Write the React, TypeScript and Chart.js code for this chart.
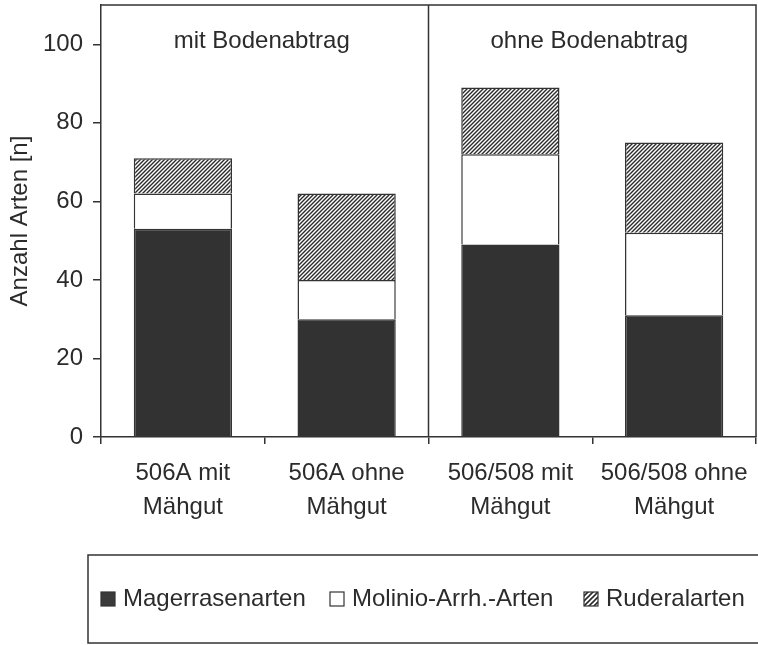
import React, { useEffect, useRef } from "react";
import { Chart, registerables } from "chart.js";

Chart.register(...registerables);

// ---- data ----
const categories: string[][] = [
  ["506A mit", "Mähgut"],
  ["506A ohne", "Mähgut"],
  ["506/508 mit", "Mähgut"],
  ["506/508 ohne", "Mähgut"],
];
const magerrasenarten: number[] = [53, 30, 49, 31];
const molinioArten: number[] = [9, 10, 23, 21];
const ruderalarten: number[] = [9, 22, 17, 23];
const seriesLabels: string[] = ["Magerrasenarten", "Molinio-Arrh.-Arten", "Ruderalarten"];
const groupLabels: string[] = ["mit Bodenabtrag", "ohne Bodenabtrag"];
const yTicks: number[] = [0, 20, 40, 60, 80, 100];
const yAxisTitle = "Anzahl Arten [n]";

const FONT = '"Liberation Sans", Arial, Helvetica, sans-serif';
const INK = "#2b2b2b";
const LINE = "#333333";
const DARK = "#323232";

function makeHatch(period: number, lw: number): CanvasPattern | string {
  const c = document.createElement("canvas");
  c.width = period;
  c.height = period;
  const g = c.getContext("2d");
  if (!g) return "#888";
  g.fillStyle = "#ffffff";
  g.fillRect(0, 0, period, period);
  g.strokeStyle = "#2a2a2a";
  g.lineWidth = lw;
  g.beginPath();
  g.moveTo(0, period);
  g.lineTo(period, 0);
  g.moveTo(-period, period);
  g.lineTo(period, -period);
  g.moveTo(0, 2 * period);
  g.lineTo(2 * period, 0);
  g.stroke();
  const p = g.createPattern(c, "repeat");
  return p || "#888";
}

export default function App() {
  const ref = useRef<HTMLCanvasElement | null>(null);

  useEffect(() => {
    if (!ref.current) return;
    const hatch = makeHatch(4, 1.4);
    const hatchLegend = makeHatch(5, 1.6);
    const fills: (string | CanvasPattern)[] = [DARK, "#ffffff", hatch];
    const legendFills: (string | CanvasPattern)[] = ["#3a3a3a", "#ffffff", hatchLegend];

    const decor = {
      id: "decor",
      afterDraw(chart: any) {
        const { ctx, chartArea: ca, scales } = chart;
        const x = scales.x;
        ctx.save();
        ctx.strokeStyle = LINE;
        ctx.lineWidth = 1.5;
        // top + right frame
        ctx.beginPath();
        ctx.moveTo(ca.left, ca.top);
        ctx.lineTo(ca.right, ca.top);
        ctx.lineTo(ca.right, ca.bottom);
        ctx.stroke();
        // divider between the two groups
        const div = (x.getPixelForValue(1) + x.getPixelForValue(2)) / 2;
        ctx.beginPath();
        ctx.moveTo(div, ca.top);
        ctx.lineTo(div, ca.bottom);
        ctx.stroke();
        // group titles
        ctx.font = `24px ${FONT}`;
        ctx.fillStyle = INK;
        ctx.textAlign = "center";
        ctx.textBaseline = "middle";
        groupLabels.forEach((g, i) => {
          const cx = (x.getPixelForValue(2 * i) + x.getPixelForValue(2 * i + 1)) / 2 - 3;
          ctx.fillText(g, cx, ca.top + 36);
        });
        // legend box
        ctx.strokeStyle = LINE;
        ctx.lineWidth = 1.5;
        ctx.strokeRect(88, 555, 720, 88);
        const starts = [101, 330, 584];
        const ly = 599;
        ctx.textAlign = "left";
        ctx.textBaseline = "middle";
        seriesLabels.forEach((lab, i) => {
          const sx = starts[i];
          ctx.fillStyle = legendFills[i];
          ctx.fillRect(sx, ly - 7, 14, 14);
          ctx.lineWidth = 1.2;
          ctx.strokeStyle = LINE;
          ctx.strokeRect(sx, ly - 7, 14, 14);
          ctx.fillStyle = INK;
          ctx.fillText(lab, sx + 22, ly);
        });
        ctx.restore();
      },
    };

    const seriesData = [magerrasenarten, molinioArten, ruderalarten];
    const chart = new Chart(ref.current, {
      type: "bar",
      data: {
        labels: categories,
        datasets: seriesLabels.map((lab, i) => ({
          label: lab,
          data: seriesData[i],
          backgroundColor: fills[i],
          borderColor: LINE,
          borderWidth: 1.5,
          barPercentage: 0.6,
          categoryPercentage: 1.0,
        })),
      },
      options: {
        responsive: false,
        animation: false,
        layout: { padding: { left: 0, right: 2, top: 5, bottom: 108 } },
        plugins: {
          legend: { display: false },
          tooltip: { enabled: false },
          title: { display: false },
        },
        scales: {
          x: {
            stacked: true,
            offset: true,
            grid: {
              offset: true,
              drawOnChartArea: false,
              drawTicks: true,
              tickLength: 7,
              color: LINE,
              lineWidth: 1.5,
            },
            border: { display: true, color: LINE, width: 1.5 },
            ticks: {
              color: INK,
              font: { family: FONT, size: 24, lineHeight: 1.42 },
              padding: 12,
              maxRotation: 0,
              minRotation: 0,
              autoSkip: false,
            },
            afterFit: (s: any) => {
              s.height = 100;
              s.paddingLeft = 0;
              s.paddingRight = 0;
            },
          },
          y: {
            stacked: true,
            min: 0,
            max: 110,
            afterBuildTicks: (s: any) => {
              s.ticks = yTicks.map((v) => ({ value: v }));
            },
            grid: {
              drawOnChartArea: false,
              drawTicks: true,
              tickLength: 8,
              color: LINE,
              lineWidth: 1.5,
            },
            border: { display: true, color: LINE, width: 1.5 },
            ticks: {
              color: INK,
              font: { family: FONT, size: 24 },
              padding: 10,
            },
            title: {
              display: true,
              text: yAxisTitle,
              color: INK,
              font: { family: FONT, size: 24 },
              padding: { top: 6, bottom: 0 },
            },
            afterFit: (s: any) => {
              s.width = 101;
              s.paddingTop = 0;
              s.paddingBottom = 0;
            },
          },
        },
      },
      plugins: [decor],
    });
    return () => chart.destroy();
  }, []);

  return (
    <div style={{ position: "absolute", left: 0, top: 0, width: 758, height: 645, background: "#fff" }}>
      <canvas ref={ref} width={758} height={645} style={{ display: "block" }} />
    </div>
  );
}
